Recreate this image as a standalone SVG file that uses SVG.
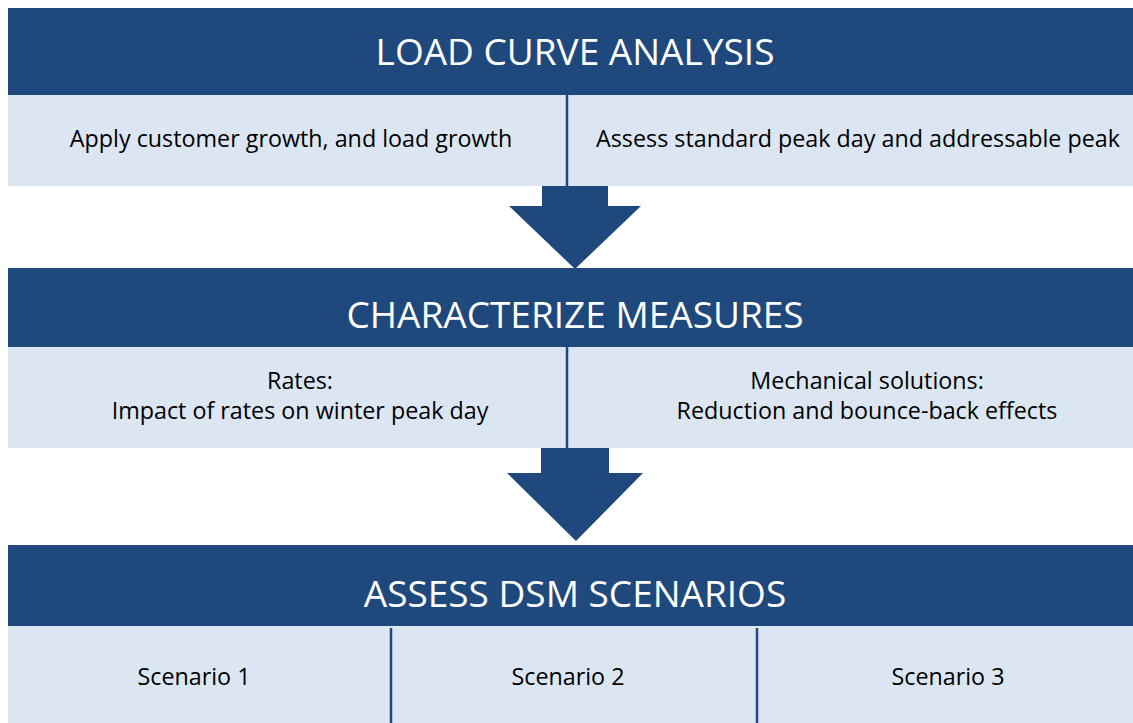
<svg xmlns="http://www.w3.org/2000/svg" width="1133" height="723" viewBox="0 0 1133 723">
  <style>
    .hdr { fill: #1F497D; }
    .band { fill: #DCE6F2; }
    .div { stroke: #1F497D; stroke-width: 2.5; }
    .flow { fill: #1F497D; }
    .title { font-family: "Open Sans", "Liberation Sans", sans-serif; font-size: 37px; fill: #FFFFFF; text-anchor: middle; }
    .body { font-family: "Open Sans", "Liberation Sans", sans-serif; font-size: 23.3px; fill: #000000; text-anchor: middle; }
  </style>
  <rect width="1133" height="723" fill="#FFFFFF"/>

  <!-- Stage 1 -->
  <g id="load-curve-analysis">
    <rect class="hdr" x="8" y="8" width="1125" height="87"/>
    <rect class="band" x="8" y="95" width="1125" height="91"/>
    <text class="title" x="575" y="65">LOAD CURVE ANALYSIS</text>
    <text class="body" x="291" y="147">Apply customer growth, and load growth</text>
    <text class="body" x="858" y="147">Assess standard peak day and addressable peak</text>
    <line class="div" x1="567" y1="95" x2="567" y2="186"/>
  </g>

  <!-- Stage 2 -->
  <g id="characterize-measures">
    <rect class="hdr" x="8" y="268" width="1125" height="79"/>
    <rect class="band" x="8" y="347" width="1125" height="101"/>
    <text class="title" x="575" y="328">CHARACTERIZE MEASURES</text>
    <text class="body" x="300" y="389">Rates:</text>
    <text class="body" x="300" y="419">Impact of rates on winter peak day</text>
    <text class="body" x="867" y="389">Mechanical solutions:</text>
    <text class="body" x="867" y="419">Reduction and bounce-back effects</text>
    <line class="div" x1="567" y1="347" x2="567" y2="448"/>
  </g>

  <!-- Stage 3 -->
  <g id="assess-dsm-scenarios">
    <rect class="hdr" x="8" y="545" width="1125" height="81"/>
    <rect class="band" x="8" y="626" width="1125" height="97"/>
    <text class="title" x="575" y="607">ASSESS DSM SCENARIOS</text>
    <text class="body" x="194" y="685">Scenario 1</text>
    <text class="body" x="568" y="685">Scenario 2</text>
    <text class="body" x="948" y="685">Scenario 3</text>
    <line class="div" x1="391" y1="628" x2="391" y2="723"/>
    <line class="div" x1="757" y1="628" x2="757" y2="723"/>
  </g>

  <!-- Block arrows between stages -->
  <g id="connectors">
    <polygon class="flow" points="542,186 608,186 608,206 641,206 575,269 509,206 542,206"/>
    <polygon class="flow" points="541,448 609,448 609,473 643,473 576,541 507,473 541,473"/>
  </g>
</svg>
